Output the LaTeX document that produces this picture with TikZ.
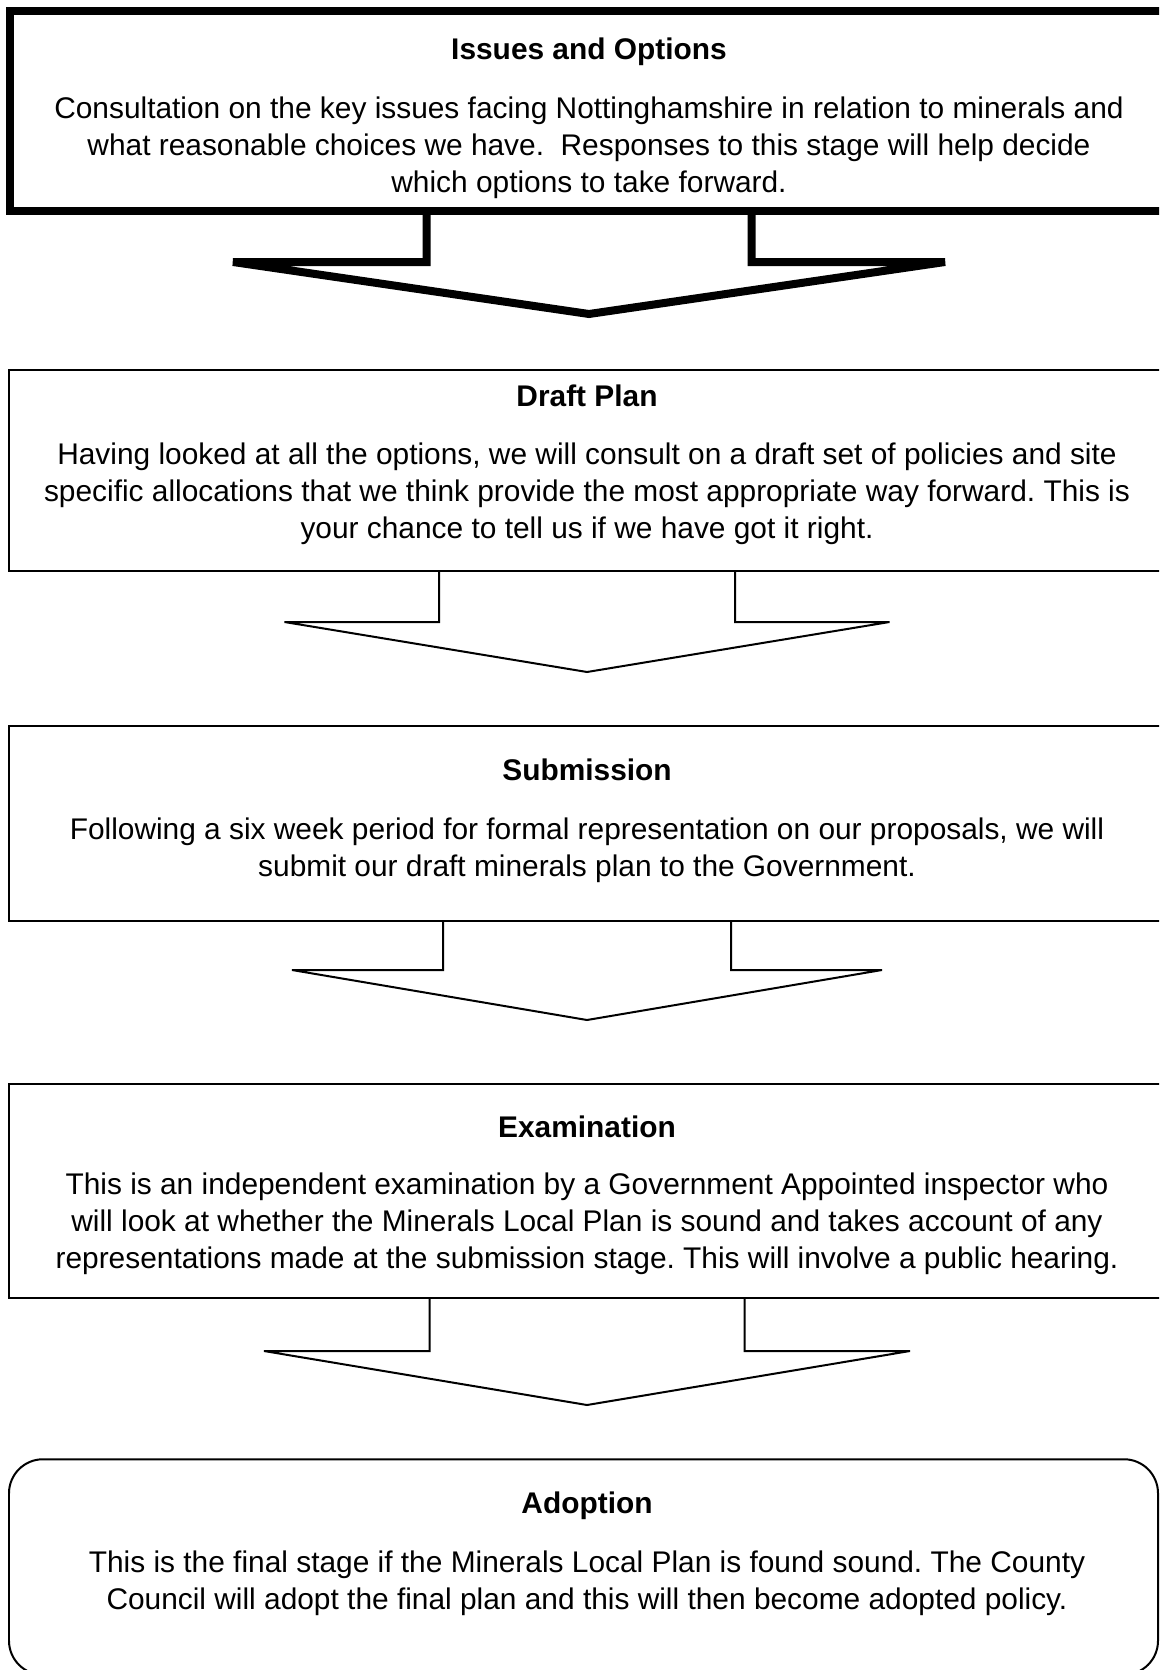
\documentclass[tikz,border=0pt]{standalone}
\usepackage{fontspec}
\setmainfont{Liberation Sans}
\usetikzlibrary{calc}
\frenchspacing

\begin{document}
\begin{tikzpicture}[
  stagebox/.style={draw=black,line width=0.04cm,inner sep=0pt,outer sep=0pt,minimum width=23.12cm},
  keybox/.style={stagebox,line width=0.16cm,minimum width=23.16cm},
  finalbox/.style={stagebox,rounded corners=0.68cm,minimum width=22.98cm},
  stagearrow/.style={draw=black,line width=0.04cm},
  keyarrow/.style={stagearrow,line width=0.16cm},
  title/.style={font=\fontsize{17}{21}\selectfont\bfseries,align=center},
  body/.style={font=\fontsize{17}{21}\selectfont,align=center}
]
\useasboundingbox (0,0) rectangle (23.18,-33.40);
\clip (0,0) rectangle (23.18,-33.40);

% Issues and Options (heavy frame)
\node[keybox,minimum height=4.00cm] (issues) at (11.78,-2.22) {};
\node[title] (issuestitle) at (11.78,-1.04) {Issues and Options};
\node[body] (issuestext) at (11.78,-2.96) {Consultation on the key issues facing Nottinghamshire in relation to minerals and\\
  what reasonable choices we have.~ Responses to this stage will help decide\\
  which options to take forward.};
\draw[keyarrow] ($(issues.south)+(-3.25,0)$) |- ($(issues.south)+(-7.12,-1.02)$)
  -- ($(issues.south)+(0,-2.06)$) -- ($(issues.south)+(7.12,-1.02)$) -| ($(issues.south)+(3.25,0)$);

% Draft Plan
\node[stagebox,minimum height=4.02cm] (draft) at (11.74,-9.41) {};
\node[title] (drafttitle) at (11.74,-7.91) {Draft Plan};
\node[body] (drafttext) at (11.74,-9.87) {Having looked at all the options, we will consult on a draft set of policies and site\\
  specific allocations that we think provide the most appropriate way forward. This is\\
  your chance to tell us if we have got it right.};
\draw[stagearrow] ($(draft.south)+(-2.96,0)$) |- ($(draft.south)+(-6.05,-1.02)$)
  -- ($(draft.south)+(0,-2.02)$) -- ($(draft.south)+(6.05,-1.02)$) -| ($(draft.south)+(2.96,0)$);

% Submission
\node[stagebox,minimum height=3.90cm] (submission) at (11.74,-16.46) {};
\node[title] (submissiontitle) at (11.74,-15.40) {Submission};
\node[body] (submissiontext) at (11.74,-17.00) {Following a six week period for formal representation on our proposals, we will\\
  submit our draft minerals plan to the Government.};
\draw[stagearrow] ($(submission.south)+(-2.88,0)$) |- ($(submission.south)+(-5.90,-0.99)$)
  -- ($(submission.south)+(0,-1.99)$) -- ($(submission.south)+(5.90,-0.99)$) -| ($(submission.south)+(2.88,0)$);

% Examination
\node[stagebox,minimum height=4.28cm] (exam) at (11.74,-23.81) {};
\node[title] (examtitle) at (11.74,-22.54) {Examination};
\node[body] (examtext) at (11.74,-24.48) {This is an independent examination by a Government Appointed inspector who\\
  will look at whether the Minerals Local Plan is sound and takes account of any\\
  representations made at the submission stage. This will involve a public hearing.};
\draw[stagearrow] ($(exam.south)+(-3.15,0)$) |- ($(exam.south)+(-6.46,-1.07)$)
  -- ($(exam.south)+(0,-2.15)$) -- ($(exam.south)+(6.46,-1.07)$) -| ($(exam.south)+(3.15,0)$);

% Adoption (rounded frame)
\node[finalbox,minimum height=4.31cm] (adoption) at (11.67,-31.34) {};
\node[title] (adoptiontitle) at (11.74,-30.12) {Adoption};
\node[body] (adoptiontext) at (11.74,-31.67) {This is the final stage if the Minerals Local Plan is found sound. The County\\
  Council will adopt the final plan and this will then become adopted policy.};
\end{tikzpicture}
\end{document}
